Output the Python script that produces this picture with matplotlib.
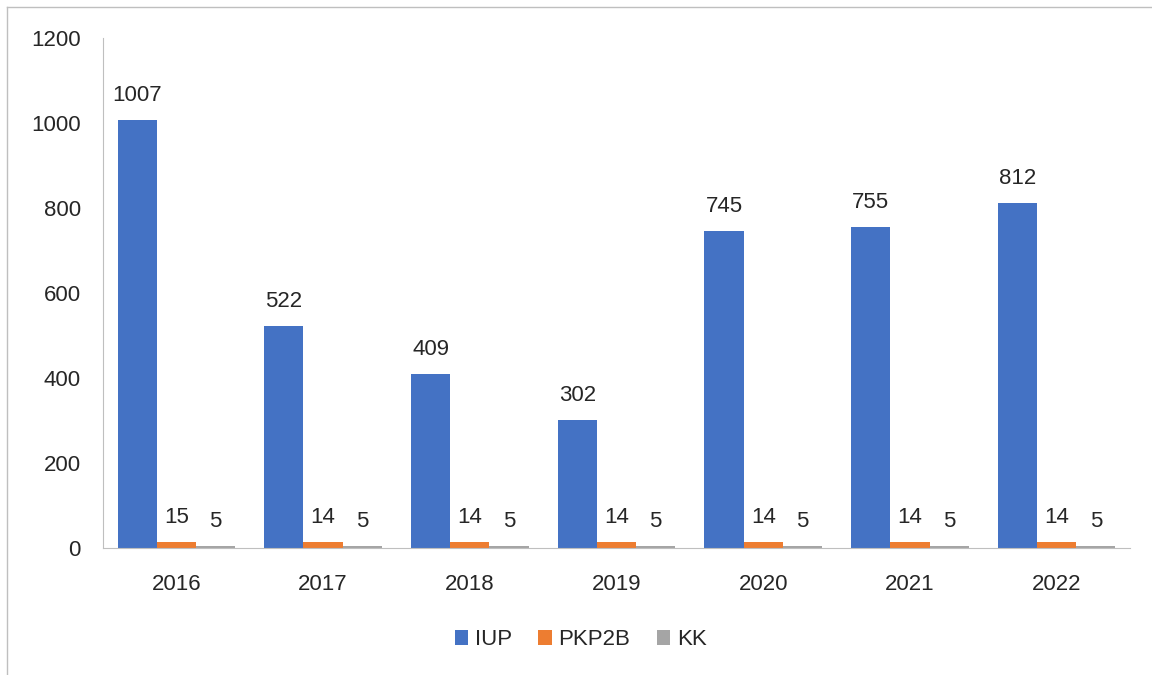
import numpy as np
import matplotlib.pyplot as plt
from matplotlib.lines import Line2D

plt.rcParams['font.family'] = ['Liberation Sans', 'DejaVu Sans']

# data
years = ["2016", "2017", "2018", "2019", "2020", "2021", "2022"]
iup = [1007, 522, 409, 302, 745, 755, 812]
pkp2b = [15, 14, 14, 14, 14, 14, 14]
kk = [5, 5, 5, 5, 5, 5, 5]
series_names = ["IUP", "PKP2B", "KK"]
colors = ["#4472C4", "#ED7D31", "#A5A5A5"]

fig = plt.figure(figsize=(11.52, 6.75), dpi=100)
ax = fig.add_axes([103 / 1152, 1 - 548 / 675, 1027 / 1152, 510 / 675])

x = np.arange(len(years))
w = 0.267
for i, (vals, name, c) in enumerate(zip([iup, pkp2b, kk], series_names, colors)):
    bars = ax.bar(x + (i - 1) * w, vals, width=w, color=c, label=name)
    ax.bar_label(bars, labels=[str(v) for v in vals], padding=10,
                 fontsize=16, color="#262626")

ax.set_xlim(-0.5, len(years) - 0.5)
ax.set_ylim(0, 1200)
ax.set_yticks(range(0, 1201, 200))
ax.set_xticks(x)
ax.set_xticklabels(years)
ax.tick_params(axis="both", length=0, labelsize=16, colors="#262626")
ax.tick_params(axis="y", pad=16)
ax.tick_params(axis="x", pad=19)

for s in ["top", "right"]:
    ax.spines[s].set_visible(False)
ax.spines["left"].set_color("#BFBFBF")
ax.spines["bottom"].set_color("#BFBFBF")

ax.legend(loc="center", bbox_to_anchor=(0.465, -0.18), ncol=3, frameon=False,
          fontsize=16, handlelength=0.6, handleheight=0.6, handletextpad=0.3,
          columnspacing=1.2, labelcolor="#262626")

# outer chart border (top and left edges visible)
fig.add_artist(Line2D([7 / 1152, 7 / 1152], [0, 1 - 7 / 675], color="#BFBFBF", lw=1))
fig.add_artist(Line2D([7 / 1152, 1], [1 - 7 / 675, 1 - 7 / 675], color="#BFBFBF", lw=1))

fig.savefig("out.png", dpi=100)
